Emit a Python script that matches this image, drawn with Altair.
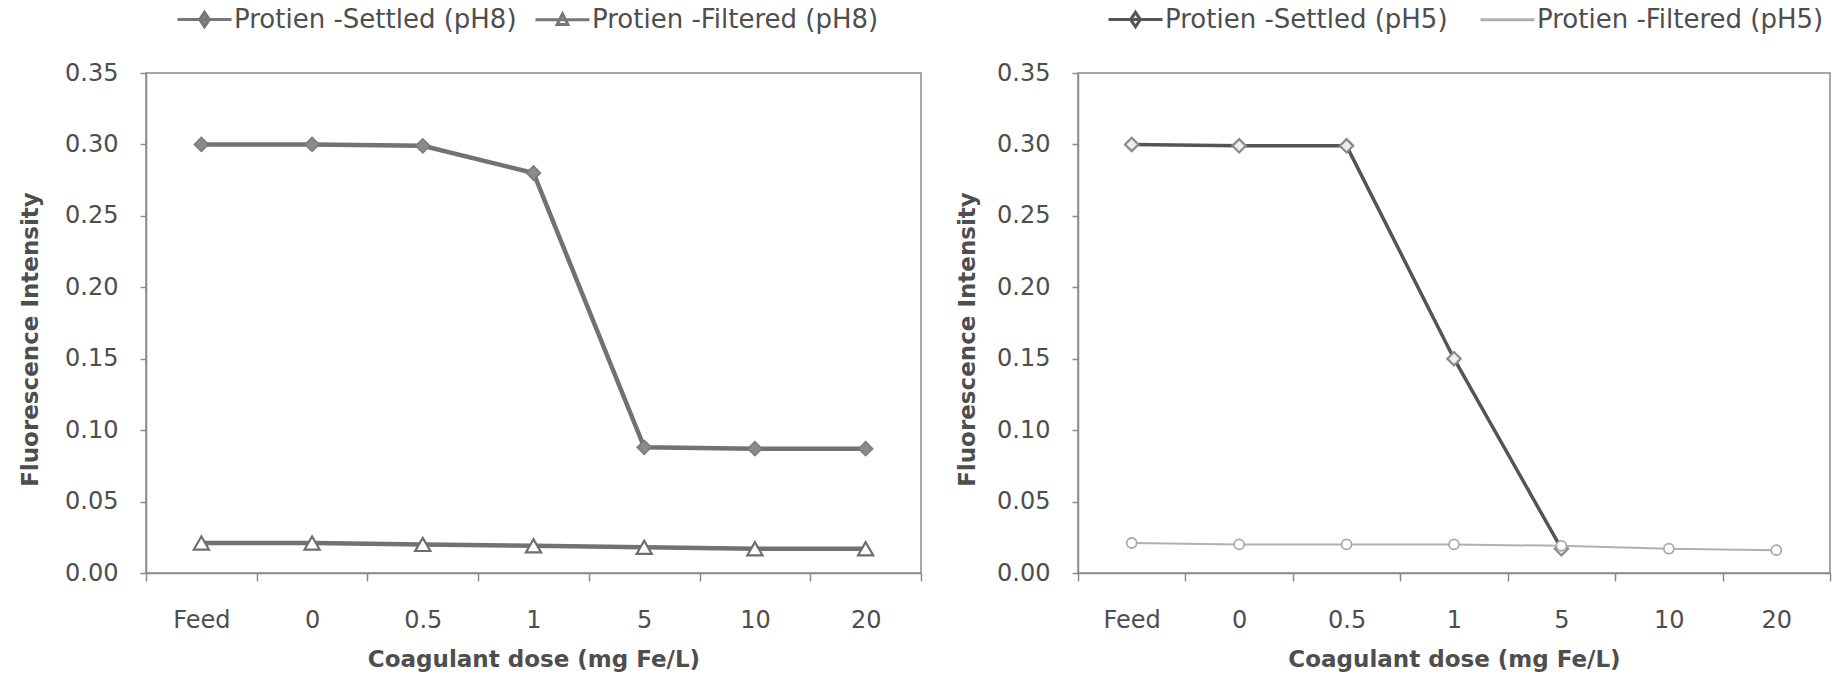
import altair as alt
import pandas as pd

# ---- data ----
doses = ["Feed", "0", "0.5", "1", "5", "10", "20"]
settled_ph8 = [0.300, 0.300, 0.299, 0.280, 0.088, 0.087, 0.087]
filtered_ph8 = [0.021, 0.021, 0.020, 0.019, 0.018, 0.017, 0.017]
settled_ph5 = [0.300, 0.299, 0.299, 0.150, 0.017, None, None]
filtered_ph5 = [0.021, 0.020, 0.020, 0.020, 0.019, 0.017, 0.016]
y_ticks = [0.00, 0.05, 0.10, 0.15, 0.20, 0.25, 0.30, 0.35]
names_ph8 = ["Protien -Settled (pH8)", "Protien -Filtered (pH8)"]
names_ph5 = ["Protien -Settled (pH5)", "Protien -Filtered (pH5)"]

FONT = "DejaVu Sans"
TXT = "#4e4e4e"
AX = "#8a8a8a"

# legend symbols: line through a marker (unit box -1..1)
DIAMOND_LEG = "M-1,0L1,0M0,-0.27L0.18,0L0,0.27L-0.18,0Z"
TRI_LEG = "M-1,0L1,0M0,-0.22L0.2,0.18L-0.2,0.18Z"
LINE_LEG = "M-1,0L1,0"


def panel(settled, filtered, names, styles, leg_paths, leg_stroke, leg_fill,
          width, y_title_x, legend_x, col_pad, leg_font):
    df = pd.DataFrame({
        "dose": doses * 2,
        "value": settled + filtered,
        "series": [names[0]] * len(doses) + [names[1]] * len(doses),
    })
    base = alt.Chart(df)
    x = alt.X(
        "dose:N", sort=doses,
        scale=alt.Scale(type="band", domain=doses, paddingInner=0, paddingOuter=0),
        axis=alt.Axis(title="Coagulant dose (mg Fe/L)", labelAngle=0, tickBand="extent",
                      tickSize=8, labelPadding=27, titleY=86, titleBaseline="middle",
                      titleFontSize=23),
    )
    y = alt.Y(
        "value:Q",
        scale=alt.Scale(domain=[0, 0.35], nice=False, zero=True),
        axis=alt.Axis(title="Fluorescence Intensity", values=y_ticks, format=".2f",
                      tickSize=6, labelPadding=22, titleX=y_title_x, titleY=266,
                      titleFontSize=23, titleBaseline="middle", grid=False),
    )
    layers = []
    for name, st in zip(names, styles):
        sub = base.transform_filter(alt.datum.series == name)
        layers.append(sub.mark_line(color=st["line"], strokeWidth=st["lw"]).encode(x=x, y=y))
        layers.append(sub.mark_point(shape=st["shape"], size=st["size"], filled=True,
                                     fill=st["fill"], stroke=st["mstroke"],
                                     strokeWidth=st["msw"], opacity=1).encode(x=x, y=y))
    leg = alt.Legend(orient="none", legendX=legend_x, legendY=-82, direction="horizontal",
                     title=None, labelFont=FONT, labelFontSize=leg_font, labelColor=TXT,
                     labelLimit=0,
                     symbolSize=2916, symbolStrokeWidth=3, columnPadding=col_pad,
                     labelOffset=1)
    legend_layer = base.transform_filter("false").mark_point(filled=True, opacity=1).encode(
        x=x, y=y,
        shape=alt.Shape("series:N", scale=alt.Scale(domain=names, range=leg_paths), legend=leg),
        stroke=alt.Stroke("series:N", scale=alt.Scale(domain=names, range=leg_stroke), legend=leg),
        fill=alt.Fill("series:N", scale=alt.Scale(domain=names, range=leg_fill), legend=leg),
    )
    layers.append(legend_layer)
    return alt.layer(*layers).properties(width=width, height=500)


styles_ph8 = [
    dict(line="#727272", lw=4.5, shape="diamond", size=200, fill="#8a8a8a",
         mstroke="#7a7a7a", msw=1.5),
    dict(line="#727272", lw=4.5, shape="triangle-up", size=230, fill="#ffffff",
         mstroke="#6e6e6e", msw=2.2),
]
styles_ph5 = [
    dict(line="#545454", lw=3.5, shape="diamond", size=180, fill="#eeeeee",
         mstroke="#8a8a8a", msw=2.2),
    dict(line="#b0b0b0", lw=2, shape="circle", size=100, fill="#ffffff",
         mstroke="#aaaaaa", msw=1.8),
]

left = panel(settled_ph8, filtered_ph8, names_ph8, styles_ph8,
             [DIAMOND_LEG, TRI_LEG], ["#777777", "#777777"], ["#888888", "#ffffff"],
             775, -116, 30, 12, 26)
right = panel(settled_ph5, filtered_ph5, names_ph5, styles_ph5,
              [DIAMOND_LEG, LINE_LEG], ["#545454", "#b0b0b0"], ["#eeeeee", "#ffffff"],
              752, -111, 29, 26, 26)

chart = alt.hconcat(left, right, spacing=157, bounds="flush").resolve_scale(
    shape="independent", stroke="independent", fill="independent"
).resolve_legend(shape="independent", stroke="independent", fill="independent").properties(
    autosize=alt.AutoSizeParams(type="none"),
    padding={"left": 146, "top": 73, "right": 1688, "bottom": 601},
    background="white",
).configure_view(
    stroke=AX, strokeWidth=1.5
).configure_axis(
    labelFont=FONT, labelFontSize=24, labelColor=TXT,
    titleFont=FONT, titleFontSize=23, titleFontWeight="bold", titleColor=TXT,
    domainColor=AX, domainWidth=1.5, tickColor=AX, tickWidth=1.5,
)

chart.save("out.html", embed_options={"renderer": "svg", "actions": False})
